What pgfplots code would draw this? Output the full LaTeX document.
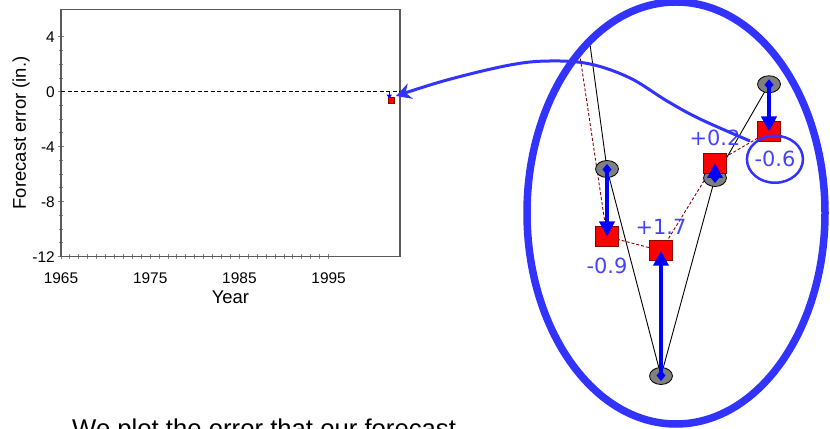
\documentclass[border=0pt]{standalone}
\usepackage{fontspec}
\setmainfont{Liberation Sans}
\newfontfamily\vfont{DejaVu Sans}
\usepackage{pgfplots}
\pgfplotsset{compat=1.18}
\usetikzlibrary{arrows.meta}
\definecolor{ellblue}{RGB}{51,51,255}
\definecolor{lblblue}{RGB}{68,68,255}
\definecolor{darkred}{RGB}{140,0,0}
\definecolor{spine}{RGB}{90,90,90}
\definecolor{tickgray}{RGB}{130,130,130}
\definecolor{markgray}{RGB}{128,128,128}
\tikzset{errarrow/.style={blue, line width=4bp, shorten <=-5bp, {Diamond[length=11bp,width=9bp]}-{Triangle[length=15bp,width=15bp]}},
  errlabel/.style={text=lblblue, font=\vfont\fontsize{21}{25}\selectfont}}
\begin{document}
\begin{tikzpicture}
\useasboundingbox (0,0) rectangle (830bp,429bp);
% ---- main axis ----
\begin{axis}[at={(61bp,172.3bp)}, anchor=south west, scale only axis,
  width=339bp, height=247.4bp,
  xmin=1965, xmax=2003, ymin=-12, ymax=6,
  xtick={1965,1975,1985,1995}, ytick={-12,-8,-4,0,4},
  minor x tick num=9, minor y tick num=3,
  tick pos=left, tick align=center,
  major tick length=5.5bp, minor tick length=5bp,
  tick style={tickgray, line width=1bp},
  axis line style={spine, line width=1.5bp},
  /pgf/number format/assume math mode=true,
  /pgf/number format/1000 sep={},
  ticklabel style={font=\fontsize{15.5}{18}\selectfont},
  xticklabel style={yshift=-9.5bp},
  label style={font=\fontsize{18.5}{22}\selectfont},
  xlabel={Year}, ylabel={Forecast error (in.)},
  xlabel style={at={(axis description cs:0.5,0)}, anchor=base, yshift=-47.3bp},
  ylabel style={yshift=-4bp},
  clip=false]
\addplot[black, line width=1.2bp, dash pattern=on 4bp off 2.5bp] coordinates {(1965,0) (2003,0)};
\addplot[blue, line width=1.5bp, -{Triangle[length=4bp,width=5bp]}] coordinates {(2001.8,0) (2001.8,-0.5)};
\addplot[only marks, mark=square*, mark size=3bp, mark options={fill=red, draw=darkred, line width=0.8bp}] coordinates {(2002,-0.6)};
\end{axis}
% ---- inset (zoomed view) ----
\begin{scope}
\clip (676bp,216bp) ellipse [x radius=145bp, y radius=207bp];
\begin{axis}[at={(499bp,15.5bp)}, anchor=south west, scale only axis,
  width=324bp, height=712.5bp,
  xmin=1997, xmax=2003, ymin=-0.5, ymax=9,
  hide axis, clip=false, clip marker paths=true]
\addplot[black, line width=0.9bp] coordinates {(1998,8.04) (1999,2.76) (2000,0.00) (2001,2.64) (2002,3.89)};
\addplot[darkred, line width=0.9bp, dash pattern=on 3bp off 2bp] coordinates {(1998,6.67) (1999,1.86) (2000,1.67) (2001,2.84) (2002,3.26)};
\addplot[only marks, mark=*, mark size=8.5bp, mark options={fill=markgray, draw=black, line width=0.8bp, xscale=1.35}] coordinates {(1999,2.76) (2000,0.00) (2001,2.64) (2002,3.89)};
\addplot[only marks, mark=square*, mark size=10bp, mark options={fill=red, draw=darkred, line width=0.8bp, xscale=1.15}] coordinates {(1999,1.86) (2000,1.67) (2001,2.84) (2002,3.26)};
\addplot[errarrow] coordinates {(1999,2.76) (1999,1.86)};
\addplot[errarrow] coordinates {(2000,0.00) (2000,1.67)};
\addplot[errarrow] coordinates {(2001,2.64) (2001,2.84)};
\addplot[errarrow] coordinates {(2002,3.89) (2002,3.26)};
\node[errlabel] at (axis cs:1999,1.467) {-0.9};
\node[errlabel] at (axis cs:2000,1.99) {+1.7};
\node[errlabel] at (axis cs:2001,3.17) {+0.2};
\node[errlabel] at (axis cs:2002.11,2.89) {-0.6};
\draw[ellblue, line width=2.5bp] (axis cs:2002.11,2.89) ellipse [x radius=28bp, y radius=23.5bp];
\end{axis}
\end{scope}
\draw[ellblue, line width=7.5bp] (676bp,216bp) ellipse [x radius=149bp, y radius=211bp];
\begin{scope}[x=1bp, y=-1bp, shift={(0,429bp)}]
\draw[ellblue, line width=3bp, -{Stealth[length=15bp,width=16bp,inset=5bp]}] plot[smooth, tension=0.6] coordinates {(750,141) (700,119) (667,101) (630,78) (590,64) (550,61) (510,65) (447,80) (396,96)};
\node[anchor=base west, inner sep=0pt, font=\fontsize{25.8}{30}\selectfont] at (72,437.5) {We plot the error that our forecast};
\end{scope}
\end{tikzpicture}
\end{document}
